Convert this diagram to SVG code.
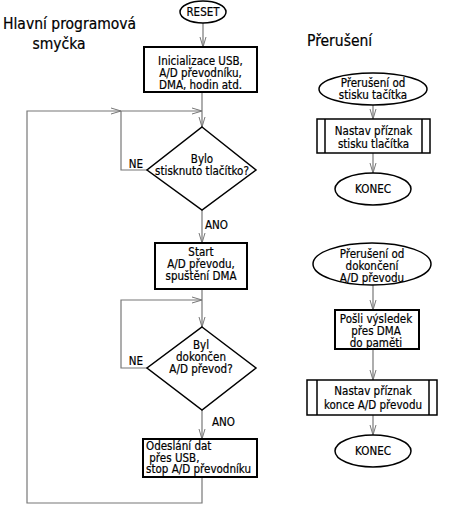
<svg xmlns="http://www.w3.org/2000/svg" width="450" height="505" viewBox="0 0 450 505">
<defs>
<marker id="arr" markerUnits="userSpaceOnUse" markerWidth="12" markerHeight="8" refX="10" refY="4" orient="auto">
<path d="M0,1 L10,4 L0,7" fill="none" stroke="#777" stroke-width="1"/>
</marker>
</defs>
<style>
text{font-family:"DejaVu Sans Condensed","DejaVu Sans",sans-serif;font-size:11.5px;fill:#000;stroke:#000;stroke-width:0.2;text-anchor:middle}
.title{font-size:15.5px}
.l{text-anchor:start}
.box{fill:#fff;stroke:#000;stroke-width:2}
.shape{fill:#fff;stroke:#000;stroke-width:1.5}
.c{fill:none;stroke:#777;stroke-width:1.2}
.ca{fill:none;stroke:#777;stroke-width:1.2;marker-end:url(#arr)}
</style>
<rect width="450" height="505" fill="#fff"/>
<text class="title l" x="3" y="29">Hlavní programová</text>
<text class="title" x="59" y="49">smyčka</text>
<text class="title l" x="307" y="46">Přerušení</text>

<g id="connectors">
<line class="ca" x1="203" y1="23" x2="203" y2="47"/>
<line class="ca" x1="202" y1="92" x2="202" y2="127"/>
<polyline class="ca" points="202,477 202,503 27,503 27,111 121,111"/>
<line class="ca" x1="121" y1="111" x2="202" y2="111"/>
<polyline class="c" points="147,170 121,170 121,111"/>
<line class="ca" x1="202" y1="210" x2="202" y2="243"/>
<line class="ca" x1="202" y1="289" x2="202" y2="327"/>
<polyline class="ca" points="147,368 121,368 121,300 202,300"/>
<line class="ca" x1="202" y1="410" x2="202" y2="439"/>
<line class="ca" x1="373" y1="105" x2="373" y2="119"/>
<line class="ca" x1="373" y1="153" x2="373" y2="173"/>
<line class="ca" x1="373" y1="285" x2="373" y2="310"/>
<line class="ca" x1="373" y1="349" x2="373" y2="380"/>
<line class="ca" x1="373" y1="415" x2="373" y2="435"/>
<text x="136" y="168">NE</text>
<text class="l" x="205" y="229">ANO</text>
<text x="136" y="365">NE</text>
<text class="l" x="212" y="426">ANO</text>
</g>

<g id="reset">
<ellipse class="shape" cx="203" cy="12" rx="23" ry="11"/>
<text x="203" y="16">RESET</text>
</g>
<g id="init">
<rect class="box" x="144" y="47" width="113" height="45"/>
<text x="200.5" y="65">Inicializace USB,</text>
<text x="200.5" y="77">A/D převodníku,</text>
<text x="200.5" y="89">DMA, hodin atd.</text>
</g>
<g id="dec1">
<polygon class="shape" points="202,127 256,170 202,210 147,170"/>
<text x="202" y="163">Bylo</text>
<text x="202" y="175">stisknuto tlačítko?</text>
</g>
<g id="start">
<rect class="box" x="155" y="243" width="92" height="46"/>
<text x="201" y="256">Start</text>
<text x="201" y="268">A/D převodu,</text>
<text x="201" y="280">spuštění DMA</text>
</g>
<g id="dec2">
<polygon class="shape" points="202,327 256,368 202,410 147,368"/>
<text x="201" y="349">Byl</text>
<text x="201" y="361">dokončen</text>
<text x="201" y="373">A/D převod?</text>
</g>
<g id="send">
<rect class="box" x="143" y="439" width="114" height="38"/>
<text class="l" x="146" y="450">Odeslání dat</text>
<text class="l" x="146" y="461.5" xml:space="preserve"> přes USB,</text>
<text class="l" x="146" y="473">stop A/D převodníku</text>
</g>

<g id="int1">
<ellipse class="shape" cx="373" cy="89" rx="54" ry="16"/>
<text x="373" y="87">Přerušení od</text>
<text x="373" y="99">stisku tačítka</text>
</g>
<g id="flag1">
<rect class="shape" x="317" y="119" width="113" height="34"/>
<line class="shape" x1="325" y1="119" x2="325" y2="153"/>
<line class="shape" x1="422" y1="119" x2="422" y2="153"/>
<text x="373.5" y="135">Nastav příznak</text>
<text x="373.5" y="148">stisku tlačítka</text>
</g>
<g id="end1">
<ellipse class="shape" cx="373" cy="189" rx="38" ry="16"/>
<text x="373" y="193">KONEC</text>
</g>
<g id="int2">
<ellipse class="shape" cx="372" cy="264" rx="59" ry="21"/>
<text x="372" y="258">Přerušení od</text>
<text x="372" y="270">dokončení</text>
<text x="372" y="282">A/D převodu</text>
</g>
<g id="dma">
<rect class="box" x="335" y="310" width="84" height="39"/>
<text x="376" y="323">Pošli výsledek</text>
<text x="376" y="335">přes DMA</text>
<text x="376" y="347">do paměti</text>
</g>
<g id="flag2">
<rect class="shape" x="307" y="380" width="130" height="35"/>
<line class="shape" x1="317" y1="380" x2="317" y2="415"/>
<line class="shape" x1="429" y1="380" x2="429" y2="415"/>
<text x="373" y="395">Nastav příznak</text>
<text x="373" y="409">konce A/D převodu</text>
</g>
<g id="end2">
<ellipse class="shape" cx="373" cy="451" rx="38" ry="16"/>
<text x="373" y="455">KONEC</text>
</g>
</svg>
